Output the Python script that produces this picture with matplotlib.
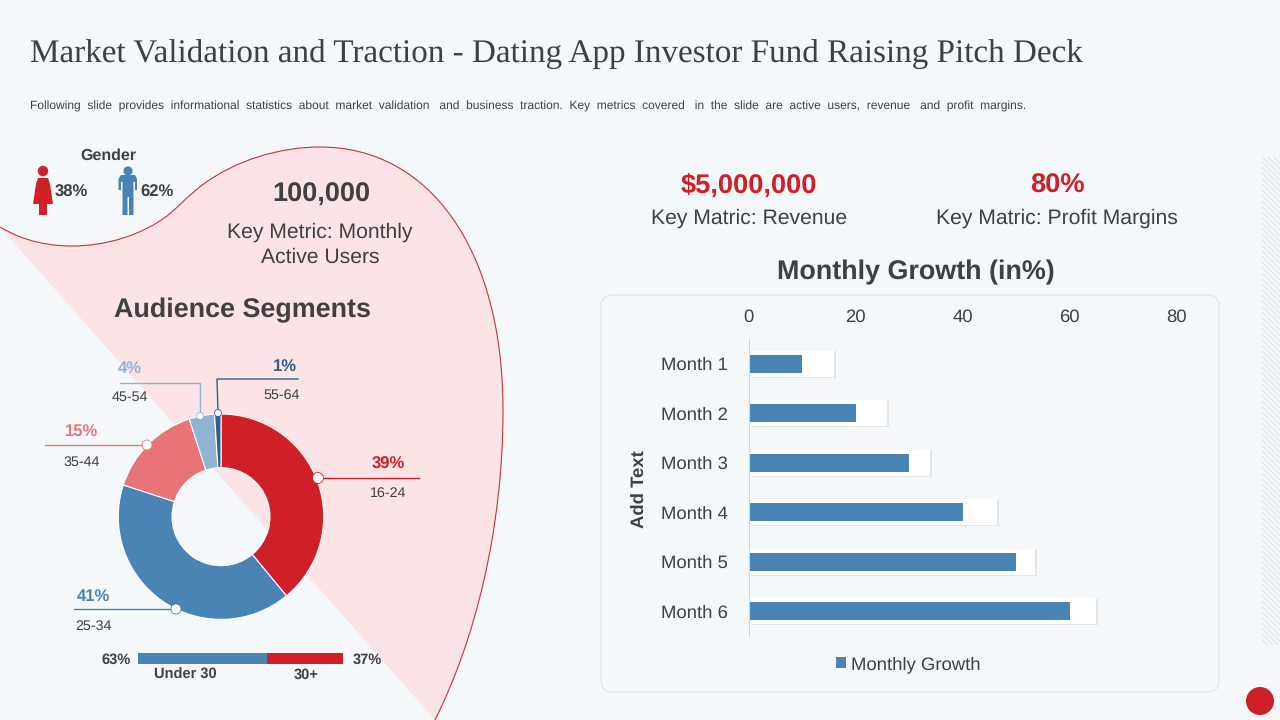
import matplotlib
matplotlib.use("Agg")
import matplotlib.pyplot as plt
from matplotlib.path import Path
from matplotlib.patches import PathPatch, Circle, Rectangle, FancyBboxPatch, Polygon
import matplotlib.patheffects as pe

plt.rcParams["font.family"] = ["Liberation Sans", "DejaVu Sans"]
plt.rcParams["hatch.linewidth"] = 0.5
plt.rcParams["text.hinting"] = "none"

# data
months = ["Month 1", "Month 2", "Month 3", "Month 4", "Month 5", "Month 6"]
growth = [10, 20, 30, 40, 50, 60]
growth_backdrop = [16, 25.8, 34, 46.5, 53.5, 65]
xticks = [0, 20, 40, 60, 80]

segments = ["16-24", "25-34", "35-44", "45-54", "55-64"]
segment_share = [39, 41, 15, 4, 1]
segment_colors = ["#cf2027", "#4a84b5", "#e8747a", "#8fb3d3", "#2f5f8a"]

age_split = [63, 37]
age_names = ["Under 30", "30+"]
gender_share = [38, 62]

title = "Market Validation and Traction - Dating App Investor Fund Raising Pitch Deck"
subtitle = ("Following  slide  provides  informational  statistics  about  market  validation   and  business  traction.  "
            "Key  metrics  covered   in  the  slide  are  active  users,  revenue   and  profit  margins.")

BG = "#f4f8fb"
DARK = "#404040"
RED = "#cf2027"
BLUE = "#4a84b5"
W, H = 1280, 720

fig = plt.figure(figsize=(12.8, 7.2), dpi=100, facecolor=BG)


def px_axes(left, top, right, bottom, **kw):
    return fig.add_axes([left / W, 1 - bottom / H, (right - left) / W, (bottom - top) / H], **kw)


def layer(z):
    a = px_axes(0, 0, W, H, zorder=z)
    a.set_xlim(0, W)
    a.set_ylim(H, 0)
    a.axis("off")
    return a


back = layer(0)
front = layer(5)

# pink blob
blob = [(0, 227),
        (25, 242), (50, 246), (72, 246),
        (108, 246), (143, 234), (167, 216),
        (178, 207), (189, 195), (201, 186),
        (235, 160), (280, 147), (320, 147),
        (430, 147), (503, 250), (503, 410),
        (503, 530), (475, 640), (435, 720)]
codes = [Path.MOVETO] + [Path.CURVE4] * (len(blob) - 1)
back.add_patch(PathPatch(Path(blob + [(0, 227)], codes + [Path.LINETO]), fc="#fce4e6", ec="none"))
back.add_patch(PathPatch(Path(blob, codes), fc="none", ec="#c8323c", lw=0.8))

# card, hatch strip, dot
back.add_patch(FancyBboxPatch((601, 295), 618, 397, boxstyle="round,pad=0,rounding_size=12",
                              fc=BG, ec="#dfe4e8", lw=0.8))
back.add_patch(Rectangle((1262, 157), 18, 488, fc="none", ec="#d5dadf", lw=0, hatch="\\\\\\\\\\\\"))
back.add_patch(Circle((1260, 701), 14, fc=RED, ec="none"))

# header
back.text(30, 55, title, family="Liberation Serif", fontsize=23.9, color=DARK, va="center")
back.text(30, 106, subtitle, fontsize=8.67, color=DARK, va="center")

# gender icons
back.text(108, 156, "Gender", fontsize=11.5, fontweight="bold", color=DARK, ha="center", va="center")
back.add_patch(Circle((43, 171), 5.2, fc=RED, ec="none"))
back.add_patch(Polygon([(38, 178), (48, 178), (50, 184), (53, 204), (47, 204), (47, 215),
                        (39, 215), (39, 204), (33, 204), (36, 184)], fc=RED, ec="none"))
back.add_patch(Circle((128, 171), 4.6, fc=BLUE, ec="none"))
back.add_patch(Polygon([(121, 175), (135, 175), (137, 179), (137, 190), (135, 190), (135, 182), (133.5, 182),
                        (133.5, 215), (129, 215), (129, 197), (127.5, 197), (127.5, 215), (122.5, 215),
                        (122.5, 182), (121, 182), (121, 190), (118.5, 190), (118.5, 179)],
                       fc=BLUE, ec="none"))
back.text(55, 192, f"{gender_share[0]}%", fontsize=12, fontweight="bold", color=DARK, va="center")
back.text(140, 192, f"{gender_share[1]}%", fontsize=12, fontweight="bold", color=DARK, va="center")

# key metrics
back.text(321, 195, "100,000", fontsize=19.5, fontweight="bold", color=DARK, ha="center", va="center")
back.text(320, 232, "Key Metric: Monthly", fontsize=15.2, color=DARK, ha="center", va="center")
back.text(320, 257, "Active Users", fontsize=15.2, color=DARK, ha="center", va="center")
back.text(242, 310, "Audience Segments", fontsize=19.4, fontweight="bold", color=DARK, ha="center", va="center")
back.text(749, 193, "$5,000,000", fontsize=19.6, fontweight="bold", color=RED, ha="center", va="baseline")
back.text(749, 218, "Key Matric: Revenue", fontsize=15.2, color=DARK, ha="center", va="center")
back.text(1057, 193, "80%", fontsize=19.6, fontweight="bold", color=RED, ha="center", va="baseline")
back.text(1057, 218, "Key Matric: Profit Margins", fontsize=15.2, color=DARK, ha="center", va="center")
back.text(916, 272, "Monthly Growth (in%)", fontsize=19.4, fontweight="bold", color=DARK, ha="center", va="center")

# donut
cx, cy, r = 221, 516.7, 102.7
ax_pie = px_axes(cx - r * 1.02, cy - r * 1.02, cx + r * 1.02, cy + r * 1.02, zorder=2)
ax_pie.patch.set_alpha(0)
ax_pie.pie(segment_share, colors=segment_colors, startangle=90, counterclock=False,
           wedgeprops=dict(width=0.523, edgecolor="white", linewidth=0.8))
ax_pie.set_xlim(-1.02, 1.02)
ax_pie.set_ylim(-1.02, 1.02)

# leader lines: points run from the slice outward, then value and label positions
leaders = [
    ([(318, 478), (419, 478)], 388, 464, 388, 493, 5.5),
    ([(176, 609), (74, 609)], 93, 596, 93, 626, 5),
    ([(147, 445), (45, 445)], 82, 432, 82, 462, 5),
    ([(200, 416), (200, 383), (120, 383)], 130, 368, 130, 397, 3.5),
    ([(218, 413), (217, 379), (298, 379)], 285, 366, 282, 395, 3.5),
]
for i, (pts, vx, vy, lx, ly, mr) in enumerate(leaders):
    col = segment_colors[i]
    front.plot([p[0] for p in pts], [p[1] for p in pts], color=col, lw=1)
    front.add_patch(Circle(pts[0], mr, fc="white", ec=col, lw=0.6, zorder=4))
    front.text(vx, vy, f"{segment_share[i]}%", fontsize=12, fontweight="bold", color=col, ha="center", va="center")
    front.text(lx, ly, segments[i], fontsize=10.3, color=DARK, ha="center", va="center")

# under 30 / 30+ strip
ax_age = px_axes(138, 653, 343, 664, zorder=2)
ax_age.barh([0], [age_split[0]], height=1, color=BLUE)
ax_age.barh([0], [age_split[1]], height=1, left=[age_split[0]], color=RED)
ax_age.set_xlim(0, sum(age_split))
ax_age.set_ylim(-0.5, 0.5)
ax_age.axis("off")
front.text(116, 660, f"{age_split[0]}%", fontsize=10.5, fontweight="bold", color=DARK, ha="center", va="center")
front.text(367, 660, f"{age_split[1]}%", fontsize=10.5, fontweight="bold", color=DARK, ha="center", va="center")
front.text(185, 679, age_names[0], fontsize=10.5, fontweight="bold", color=DARK, ha="center", va="baseline")
front.text(306, 679, age_names[1], fontsize=10.5, fontweight="bold", color=DARK, ha="center", va="baseline")

# bar chart
ax = px_axes(748.5, 339, 1176.5, 636, zorder=2)
ax.patch.set_alpha(0)
y = list(range(len(months)))
backdrop = ax.barh(y, growth_backdrop, height=0.53, color="white", zorder=1)
for b in backdrop:
    b.set_path_effects([pe.SimplePatchShadow(offset=(1.5, -0.5), shadow_rgbFace="#000000", alpha=0.07), pe.Normal()])
bars = ax.barh(y, growth, height=0.36, color=BLUE, zorder=2, label="Monthly Growth")
ax.set_xlim(0, 80)
ax.set_ylim(5.5, -0.5)
ax.xaxis.tick_top()
ax.set_xticks(xticks)
ax.set_yticks(y)
ax.set_yticklabels(months)
ax.tick_params(axis="both", length=0, labelsize=13.3, labelcolor=DARK)
ax.tick_params(axis="x", pad=10)
ax.tick_params(axis="y", pad=14.5)
for s in ["top", "right", "bottom"]:
    ax.spines[s].set_visible(False)
ax.spines["left"].set_color("#cfd4d8")
ax.set_ylabel("Add Text", fontsize=13.3, fontweight="bold", color=DARK)
ax.yaxis.set_label_coords(-0.235, 0.495)
ax.legend(handles=[bars], loc="center", bbox_to_anchor=(0.374, -0.095), frameon=False, fontsize=13.3,
          labelcolor=DARK, handlelength=0.5, handleheight=0.5, handletextpad=0.3)

fig.savefig("out.png", dpi=100, facecolor=BG)
